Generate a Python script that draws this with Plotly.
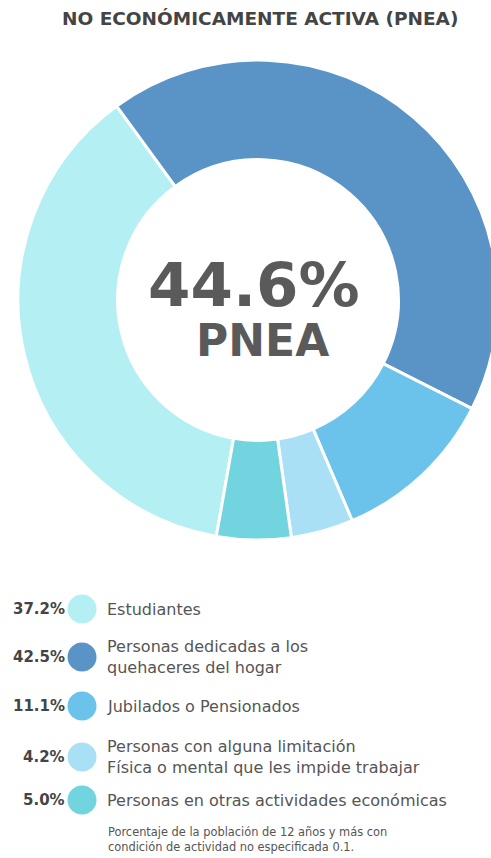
import plotly.graph_objects as go

# ---- data ----
categories = [
    "Estudiantes",
    "Personas dedicadas a los quehaceres del hogar",
    "Jubilados o Pensionados",
    "Personas con alguna limitación Física o mental que les impide trabajar",
    "Personas en otras actividades económicas",
]
legend_labels = [
    "Estudiantes",
    "Personas dedicadas a los<br>quehaceres del hogar",
    "Jubilados o Pensionados",
    "Personas con alguna limitación<br>Física o mental que les impide trabajar",
    "Personas en otras actividades económicas",
]
values = [37.2, 42.5, 11.1, 4.2, 5.0]
pnea_total = 44.6
title_text = "NO ECONÓMICAMENTE ACTIVA (PNEA)"
center_label = "PNEA"
footnote = ("Porcentaje de la población de 12 años y más con<br>"
            "condición de actividad no especificada 0.1.")

# ---- style / layout ----
colors = ["#B4EFF4", "#5A94C7", "#6BC3EC", "#A9E0F6", "#72D4DF"]
W, H = 500, 858          # figure slightly wider than the 491px window: donut is clipped at right
cx, cy, R = 258, 300, 240
FONT = "DejaVu Sans"
TXT = "#555555"
legend_row_y = [609, 657, 706, 757, 800]

fig = go.Figure()

fig.add_trace(go.Pie(
    labels=categories, values=values, hole=0.585, sort=False,
    direction="clockwise", rotation=190,
    marker=dict(colors=colors, line=dict(color="white", width=3)),
    textinfo="none", hoverinfo="label+percent", showlegend=False,
    domain=dict(x=[(cx - R) / W, (cx + R) / W],
                y=[1 - (cy + R) / H, 1 - (cy - R) / H]),
))

fig.add_trace(go.Scatter(
    x=[82] * len(values), y=legend_row_y, mode="markers",
    marker=dict(size=29, color=colors, line=dict(width=0)),
    hoverinfo="skip", showlegend=False, xaxis="x", yaxis="y",
))

annotations = []
annotations.append(dict(text=f"<b>{title_text}</b>", x=260, y=18, xref="x", yref="y",
                        showarrow=False, xanchor="center", yanchor="middle",
                        font=dict(family=FONT, size=18.5, color="#444444")))
annotations.append(dict(text=f"<b>{pnea_total}%</b>", x=254, y=284, xref="x", yref="y",
                        showarrow=False, xanchor="center", yanchor="middle",
                        font=dict(family=FONT, size=61, color="#5A5A5A")))
annotations.append(dict(text=f"<b>{center_label}</b>", x=262, y=340, xref="x", yref="y",
                        showarrow=False, xanchor="center", yanchor="middle",
                        font=dict(family=FONT, size=44, color="#5A5A5A")))
for v, lab, ry in zip(values, legend_labels, legend_row_y):
    annotations.append(dict(text=f"<b>{v:.1f}%</b>", x=67, y=ry, xref="x", yref="y",
                            showarrow=False, xanchor="right", yanchor="middle",
                            font=dict(family=FONT, size=15, color="#444444")))
    annotations.append(dict(text=lab, x=105, y=ry, xref="x", yref="y",
                            showarrow=False, xanchor="left", yanchor="middle", align="left",
                            font=dict(family=FONT, size=16, color=TXT)))
annotations.append(dict(text=footnote, x=106, y=839, xref="x", yref="y",
                        showarrow=False, xanchor="left", yanchor="middle", align="left",
                        font=dict(family=FONT, size=11.4, color=TXT)))

fig.update_layout(
    width=W, height=H,
    margin=dict(l=0, r=0, t=0, b=0),
    paper_bgcolor="white", plot_bgcolor="rgba(0,0,0,0)",
    xaxis=dict(range=[0, W], domain=[0, 1], visible=False, fixedrange=True),
    yaxis=dict(range=[H, 0], domain=[0, 1], visible=False, fixedrange=True),
    annotations=annotations,
)

fig.write_html(
    "out.html",
    config={"displayModeBar": False},
    post_script="document.body.style.margin='0';document.body.style.overflow='hidden';",
)
